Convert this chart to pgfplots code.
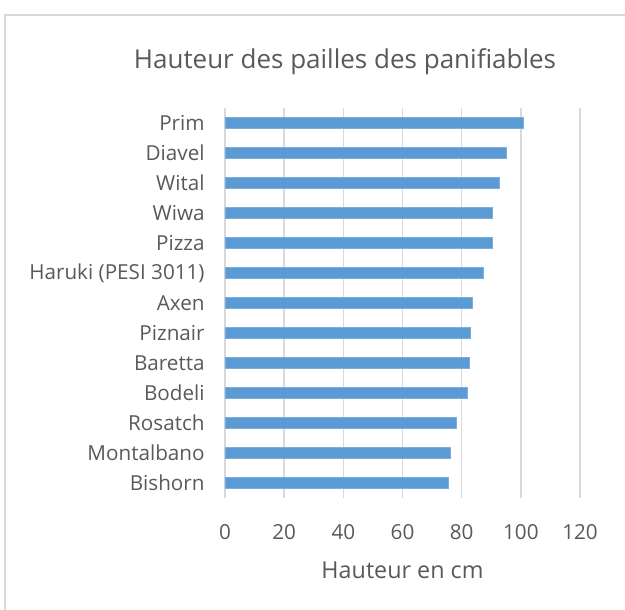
\documentclass[border=0pt]{standalone}
\usepackage{pgfplots}
\pgfplotsset{compat=1.18}
\usepackage{fontspec}
\setmainfont{Open Sans}
\definecolor{txt}{HTML}{595959}
\definecolor{barc}{HTML}{5B9BD5}
\definecolor{gridc}{HTML}{D9D9D9}
\begin{document}
\begin{tikzpicture}[x=0.75pt,y=0.75pt]
\useasboundingbox (0,0) rectangle (625,610);
\draw[gridc,line width=1.2pt] (5,0) -- (5,595) -- (630,595);
\begin{axis}[
  at={(225pt*0.75,112pt*0.75)}, anchor=south west,
  scale only axis,
  width=266.25pt, height=292.5pt,
  xbar, bar width=8.25pt,
  xmin=0, xmax=120,
  ymin=-0.5, ymax=12.5,
  xtick={0,20,...,120},
  ytick={0,...,12},
  yticklabels={Bishorn,Montalbano,Rosatch,Bodeli,Baretta ,Piznair,Axen,Haruki (PESI 3011),Pizza,Wiwa,Wital,Diavel,Prim},
  axis line style={draw=none},
  major tick style={draw=none},
  xmajorgrids, ymajorgrids=false, grid style={gridc,line width=1.2pt},
  /pgf/number format/assume math mode=true,
  ticklabel style={font=\fontsize{15.5}{17}\selectfont, text=txt},
  xticklabel style={yshift=-16pt},
  yticklabel style={xshift=-7.5pt},
  xlabel={Hauteur en cm},
  xlabel style={font=\fontsize{17.5}{19}\selectfont, text=txt, yshift=-10pt},
  title={Hauteur des pailles des panifiables},
  title style={font=\fontsize{19.5}{22}\selectfont, text=txt, at={(0.338,1.098)}, anchor=center},
]
\addplot[fill=barc, draw=barc!80!white] coordinates {
(75.5,0) (76.1,1) (78.3,2) (81.9,3) (82.4,4) (83.0,5) (83.7,6) (87.4,7) (90.2,8) (90.5,9) (92.8,10) (95.1,11) (100.7,12)
};
\end{axis}
\end{tikzpicture}
\end{document}
